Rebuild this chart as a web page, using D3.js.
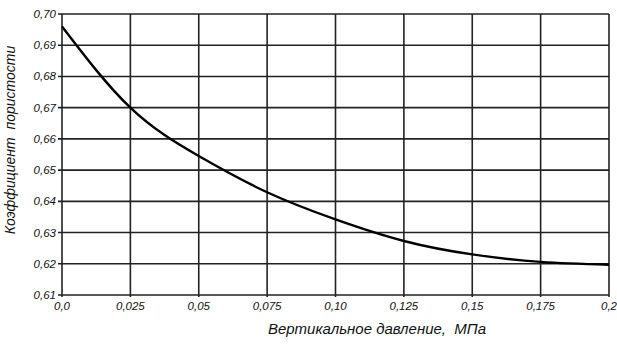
<!DOCTYPE html>
<html>
<head>
<meta charset="utf-8">
<script src="https://cdn.jsdelivr.net/npm/d3@7"></script>
<style>
  body { margin: 0; background: #fff; }
  text { font-family: "Liberation Sans", Arial, sans-serif; font-style: italic; fill: #111; }
</style>
</head>
<body>
<div id="chart"></div>
<script>
// pressure, MPa
var pressure = [0, 0.025, 0.05, 0.075, 0.10, 0.125, 0.15, 0.175, 0.2]
// void ratio
var voidRatio = [0.696, 0.670, 0.6545, 0.6429, 0.6342, 0.6273, 0.6230, 0.6206, 0.6197]

var xTicks = [0, 0.025, 0.05, 0.075, 0.10, 0.125, 0.15, 0.175, 0.2]
var xTickLabels = ['0,0', '0,025', '0,05', '0,075', '0,10', '0,125', '0,15', '0,175', '0,2']
var yTicks = [0.61, 0.62, 0.63, 0.64, 0.65, 0.66, 0.67, 0.68, 0.69, 0.70]

var width = 617
var height = 344
var margin = { top: 14, right: 8, bottom: 49, left: 62 }
var w = width - margin.left - margin.right
var h = height - margin.top - margin.bottom

var svg = d3.select('#chart').append('svg')
  .attr('width', width)
  .attr('height', height)

var g = svg.append('g')
  .attr('transform', 'translate(' + margin.left + ',' + margin.top + ')')

var x = d3.scaleLinear().domain([0, 0.2]).range([0, w])
var y = d3.scaleLinear().domain([0.61, 0.70]).range([h, 0])

// grid
g.append('g').selectAll('line')
  .data(yTicks)
  .enter().append('line')
  .attr('x1', -4)
  .attr('x2', w)
  .attr('y1', d => y(d))
  .attr('y2', d => y(d))
  .attr('stroke', '#222')
  .attr('stroke-width', 1.6)

g.append('g').selectAll('line')
  .data(xTicks)
  .enter().append('line')
  .attr('x1', d => x(d))
  .attr('x2', d => x(d))
  .attr('y1', 0)
  .attr('y2', h + 2)
  .attr('stroke', '#222')
  .attr('stroke-width', 1.6)

// tick labels
g.append('g').selectAll('text')
  .data(yTicks)
  .enter().append('text')
  .attr('x', -6)
  .attr('y', d => y(d))
  .attr('dy', '0.35em')
  .attr('text-anchor', 'end')
  .style('font-size', '11.5px')
  .text(d => d3.format('.2f')(d).replace('.', ','))

g.append('g').selectAll('text')
  .data(xTicks)
  .enter().append('text')
  .attr('x', d => x(d))
  .attr('y', h + 15)
  .attr('text-anchor', 'middle')
  .style('font-size', '11.5px')
  .text((d, i) => xTickLabels[i])

// curve
var points = pressure.map((p, i) => [p, voidRatio[i]])
var line = d3.line()
  .x(d => x(d[0]))
  .y(d => y(d[1]))
  .curve(d3.curveNatural)

g.append('path')
  .datum(points)
  .attr('d', line)
  .attr('fill', 'none')
  .attr('stroke', '#000')
  .attr('stroke-width', 2.4)

// axis titles
svg.append('text')
  .attr('x', 377)
  .attr('y', 334)
  .attr('text-anchor', 'middle')
  .style('font-size', '15px')
  .style('white-space', 'pre')
  .text('Вертикальное давление,  МПа')

svg.append('text')
  .attr('transform', 'translate(15,140) rotate(-90)')
  .attr('text-anchor', 'middle')
  .style('font-size', '14px')
  .style('white-space', 'pre')
  .text('Коэффициент  пористости')
</script>
</body>
</html>
